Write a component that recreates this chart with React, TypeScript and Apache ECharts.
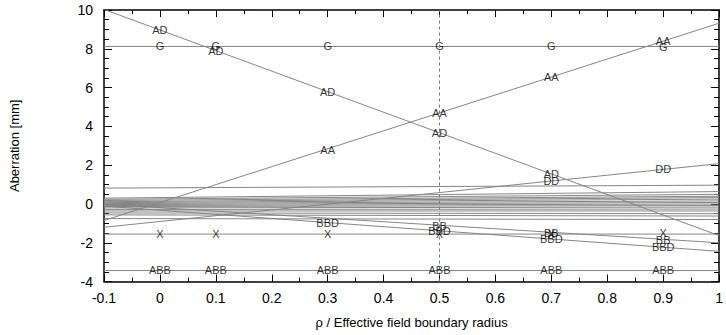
import React, { useEffect, useRef } from "react";
import * as echarts from "echarts";

// x positions where the fitted lines start and end
const lineXRange = [-0.1, 1];

// labelled lines: value at x = -0.1 and at x = 1
const lineNames = ["AD", "G", "AA", "DD", "BBD", "BB", "X", "ABB"];
const lineStartValues = [10.03, 8.12, -0.85, -1.2, -0.11, -0.01, -1.55, -3.43];
const lineEndValues = [-1.63, 8.12, 9.32, 2.08, -2.44, -2.0, -1.55, -3.43];

// unlabelled lines in the central bundle
const bundleStartValues = [0.82, 0.3, 0.24, 0.18, 0.12, 0.07, 0.02, -0.03, -0.08, -0.13, -0.2, -0.28, -0.36, -0.46, -0.56, -0.75];
const bundleEndValues = [0.97, 0.64, 0.5, 0.4, 0.33, 0.25, 0.16, 0.08, 0.0, -0.08, -0.16, -0.26, -0.36, -0.5, -0.62, -0.8];

// text labels placed on the lines
const adLabels = [[0, 8.97], [0.1, 7.87], [0.3, 5.77], [0.5, 3.66], [0.7, 1.55]];
const gLabels = [[0, 8.12], [0.1, 8.14], [0.3, 8.12], [0.5, 8.12], [0.7, 8.12], [0.9, 8.1]];
const aaLabels = [[0.3, 2.78], [0.5, 4.69], [0.7, 6.55], [0.9, 8.42]];
const ddLabels = [[0.7, 1.19], [0.9, 1.79]];
const bbdLabels = [[0.3, -0.96], [0.5, -1.39], [0.7, -1.82], [0.9, -2.23]];
const bbLabels = [[0.5, -1.12], [0.7, -1.48], [0.9, -1.86]];
const xLabels = [[0, -1.55], [0.1, -1.55], [0.3, -1.55], [0.5, -1.55], [0.7, -1.55], [0.9, -1.5]];
const abbLabels = [[0, -3.42], [0.1, -3.42], [0.3, -3.42], [0.5, -3.4], [0.7, -3.42], [0.9, -3.42]];

const labelGroups: [string, number[][]][] = [
  ["AD", adLabels],
  ["G", gLabels],
  ["AA", aaLabels],
  ["DD", ddLabels],
  ["BBD", bbdLabels],
  ["BB", bbLabels],
  ["X", xLabels],
  ["ABB", abbLabels],
];

const markerX = 0.5;
const yRange = [-4, 10];

const FONT = "'Liberation Sans', Arial, sans-serif";
const LINE_COLOR = "#858585";

export default function App() {
  const ref = useRef<HTMLDivElement>(null);
  useEffect(() => {
    if (!ref.current) return;
    const chart = echarts.init(ref.current, null, { renderer: "svg" });

    const fmtX = (v: number) => {
      const r = Math.round(v * 10) / 10;
      if (r === 0) return "0";
      if (r === 1) return "1";
      return r.toFixed(1);
    };

    const tickCommon = {
      axisLine: { show: true, onZero: false, lineStyle: { color: "#000", width: 1.5 } },
      splitLine: { show: false },
    };

    const series: any[] = [];
    lineNames.forEach((name, i) => {
      series.push({
        type: "line",
        name,
        data: [
          [lineXRange[0], lineStartValues[i]],
          [lineXRange[1], lineEndValues[i]],
        ],
        showSymbol: false,
        symbol: "none",
        lineStyle: { color: LINE_COLOR, width: 1 },
        silent: true,
        z: 2,
      });
    });
    bundleStartValues.forEach((v, i) => {
      series.push({
        type: "line",
        data: [
          [lineXRange[0], v],
          [lineXRange[1], bundleEndValues[i]],
        ],
        showSymbol: false,
        symbol: "none",
        lineStyle: { color: LINE_COLOR, width: 1 },
        silent: true,
        z: 2,
      });
    });
    series.push({
      type: "line",
      data: [
        [markerX, yRange[0]],
        [markerX, yRange[1]],
      ],
      showSymbol: false,
      symbol: "none",
      lineStyle: { color: "#777", width: 1, type: [3, 3] },
      silent: true,
      z: 1,
    });
    labelGroups.forEach(([name, pts]) => {
      series.push({
        type: "scatter",
        name,
        symbolSize: 1,
        itemStyle: { color: "rgba(0,0,0,0)" },
        data: pts.map((p) => ({ value: p, name })),
        label: {
          show: true,
          position: "inside",
          formatter: "{b}",
          color: "#000",
          fontSize: 11,
          fontFamily: FONT,
        },
        silent: true,
        z: 5,
      });
    });

    chart.setOption({
      animation: false,
      backgroundColor: "#fff",
      textStyle: { fontFamily: FONT },
      grid: { left: 97.6, right: 5, top: 10, bottom: 53.4, containLabel: false },
      xAxis: [
        {
          type: "value",
          position: "bottom",
          min: lineXRange[0],
          max: lineXRange[1],
          interval: 0.1,
          ...tickCommon,
          axisTick: { show: true, inside: true, length: 7, lineStyle: { color: "#000", width: 1 } },
          minorTick: { show: true, splitNumber: 2, length: 4, lineStyle: { color: "#000", width: 1 } },
          minorSplitLine: { show: false },
          axisLabel: { formatter: fmtX, fontSize: 14, color: "#000", margin: 9, fontFamily: FONT },
          name: "ρ / Effective field boundary radius",
          nameLocation: "middle",
          nameGap: 34,
          nameTextStyle: { fontSize: 13, color: "#000", fontFamily: FONT },
        },
        {
          type: "value",
          position: "top",
          min: lineXRange[0],
          max: lineXRange[1],
          interval: 0.1,
          ...tickCommon,
          axisTick: { show: true, inside: true, length: 7, lineStyle: { color: "#000", width: 1 } },
          minorTick: { show: true, splitNumber: 2, length: 4, lineStyle: { color: "#000", width: 1 } },
          axisLabel: { show: false },
        },
      ],
      yAxis: [
        {
          type: "value",
          position: "left",
          min: yRange[0],
          max: yRange[1],
          interval: 2,
          ...tickCommon,
          axisTick: { show: true, inside: true, length: 8, lineStyle: { color: "#000", width: 1 } },
          minorTick: { show: true, splitNumber: 4, length: 5, lineStyle: { color: "#000", width: 1 } },
          axisLabel: { fontSize: 14, color: "#000", margin: 11, fontFamily: FONT },
          name: "Aberration [mm]",
          nameLocation: "middle",
          nameGap: 83,
          nameTextStyle: { fontSize: 13, color: "#000", fontFamily: FONT },
        },
        {
          type: "value",
          position: "right",
          min: yRange[0],
          max: yRange[1],
          interval: 2,
          ...tickCommon,
          axisTick: { show: true, inside: true, length: 8, lineStyle: { color: "#000", width: 1 } },
          minorTick: { show: true, splitNumber: 4, length: 5, lineStyle: { color: "#000", width: 1 } },
          axisLabel: { show: false },
        },
      ],
      series,
    });
    return () => chart.dispose();
  }, []);

  return (
    <div
      ref={ref}
      style={{ position: "fixed", left: 0, top: 0, width: 726, height: 335, background: "#fff" }}
    />
  );
}
